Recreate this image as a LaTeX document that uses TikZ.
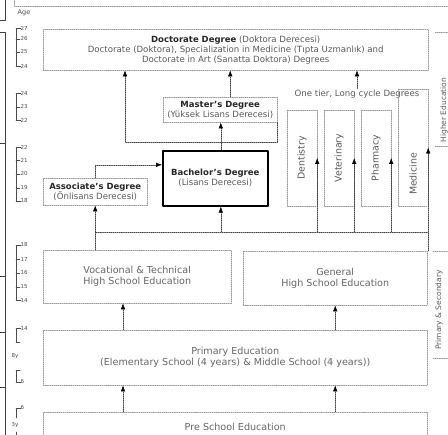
\documentclass[tikz,border=0pt]{standalone}
\usepackage{fontspec}
\setmainfont{DejaVu Sans}
\usetikzlibrary{arrows.meta}

\begin{document}
\begin{tikzpicture}[line cap=round,line join=round,>={Latex[length=6pt,width=4.5pt,black]},x=1pt,y=-1pt,
  boxline/.style={draw=gray!80, dash pattern=on 1.2pt off 0.9pt, line width=0.45pt},
  box/.style={boxline, anchor=north west, inner sep=0pt, align=center, text=black!65, font=\fontsize{8.6}{10}\selectfont},
  big/.style={font=\fontsize{9.6}{11}\selectfont, text=black!60},
  tall/.style={boxline, inner sep=0pt, text=black!65, font=\fontsize{9.4}{10}\selectfont},
  link/.style={->, draw=black!75, dash pattern=on 1.2pt off 0.9pt, line width=0.45pt},
  wire/.style={draw=black!75, dash pattern=on 1.2pt off 0.9pt, line width=0.45pt},
  agebr/.style={draw=black!70, line width=0.4pt},
  age/.style={anchor=west, inner sep=0.5pt, text=black!70, font=\fontsize{5.5}{6}\selectfont}]

\def\bl{43} %left edge of the boxes
\def\bw{384} %width of the long boxes

\useasboundingbox (0,0) rectangle (448,435);

%frame lines
\draw[boxline] (14,-5) -- (14,6) -- (452,6);
\draw[black!75, line width=0.5pt] (-2,20) -- (5,20) -- (5,-5);
\draw[black!75, line width=0.5pt] (-2,32) -- (5,32) -- (5,440);
\foreach \y in {143,276,332,387} \draw[black!75, line width=0.5pt] (-2,\y) -- (5,\y);

%ages
\node[text=black!70, font=\fontsize{6.5}{7}\selectfont] (agetitle) at (24,13) {Age};
\foreach \top/\bot in {28/66, 93/120, 147/201, 245/300}
  \draw[agebr] (21,\top) -- (16,\top) -- (16,\bot) -- (21,\bot);
\draw[agebr] (21,328) -- (16,328) -- (16,342);
\draw[agebr] (16,370) -- (16,382) -- (21,382);
\draw[agebr] (21,408) -- (16,408) -- (16,418);
\draw[agebr] (16,432) -- (16,440);
\foreach \y/\a in {28/27, 39/26, 52/25, 66/24, 93/24, 107/23, 120/22, 147/22, 160/21, 174/20, 188/19, 201/18,
  245/18, 259/17, 273/16, 287/15, 300/14, 328/14, 382/6, 408/6} {
  \draw[agebr] (16,\y) -- (20,\y);
  \node[age] (age\y) at (20,\y) {\a};
}
\foreach \y in {342,370} \draw[agebr] (16,\y) -- (20,\y);
\node[age, anchor=center] (yrs8) at (15,356) {8y};
\node[age, anchor=center] (yrs3) at (15,425) {3y};

%higher education
\node[box, minimum width=385pt, minimum height=41pt] (doc) at (\bl,29)
  {{\color{black!85}\bfseries\fontsize{8.5}{10}\selectfont Doctorate Degree} (Doktora Derecesi)\\
   Doctorate (Doktora), Specialization in Medicine (Tıpta Uzmanlık) and\\
   Doctorate in Art (Sanatta Doktora) Degrees};
\node[box, minimum width=114pt, minimum height=25pt] (mas) at (163,97)
  {{\color{black!85}\bfseries\fontsize{8.5}{10}\selectfont Master's Degree}\\(Yüksek Lisans Derecesi)};
\node[box, draw=black, solid, line width=1.6pt, minimum width=105pt, minimum height=55pt] (bach) at (162,150)
  {{\color{black!85}\bfseries\fontsize{8.5}{10}\selectfont Bachelor's Degree}\\(Lisans Derecesi)};
\node[box, minimum width=104pt, minimum height=27pt] (ass) at (\bl,178)
  {{\color{black!85}\bfseries\fontsize{8.5}{10}\selectfont Associate's Degree}\\(Önlisans Derecesi)};

%one tier programmes
\node[text=black!65, font=\fontsize{8.6}{10}\selectfont, inner sep=1pt] (tier) at (357,94) {One tier, Long cycle Degrees};
\node[tall, minimum width=96pt, minimum height=30pt, rotate=90] (dent) at (302,158) {Dentistry};
\node[tall, minimum width=96pt, minimum height=30pt, rotate=90] (vet) at (339,158) {Veterinary};
\node[tall, minimum width=96pt, minimum height=30pt, rotate=90] (phar) at (376,158) {Pharmacy};
\node[tall, minimum width=117pt, minimum height=30pt, rotate=90] (med) at (413,147.5) {};
\node[text=black!65, font=\fontsize{9.4}{10}\selectfont, rotate=90] (medtext) at (413,174) {Medicine};

%secondary and primary
\node[box, big, minimum width=188pt, minimum height=53pt] (voc) at (\bl,250) {Vocational \& Technical\\High School Education};
\node[box, big, minimum width=184pt, minimum height=54pt] (gen) at (243,251) {General\\High School Education};
\node[box, big, minimum width=\bw pt, minimum height=55pt] (prim) at (\bl,330)
  {Primary Education\\(Elementary School (4 years) \& Middle School (4 years))};
\node[box, big, minimum width=\bw pt, minimum height=30pt] (pre) at (\bl,412) {Pre School Education};

%side labels
\draw[boxline] (435,32) -- (452,32);
\draw[boxline] (435,146) -- (452,146);
\draw[boxline] (433,251) -- (452,251);
\draw[boxline] (433,358) -- (452,358);
\node[text=black!65, font=\fontsize{7.5}{8}\selectfont, rotate=90] (highlab) at (444,110) {Higher Education};
\node[text=black!65, font=\fontsize{7.5}{8}\selectfont, rotate=90] (seclab) at (439,310) {Primary \& Secondary};

%connectors
\coordinate (bus) at (0,232);
\coordinate (jn) at (125,142);
\coordinate (pa) at (123,0);
\coordinate (mx) at ([xshift=10pt]mas.north);
\coordinate (bt) at ([xshift=5.5pt]bach.north);
\coordinate (bb) at ([xshift=5.5pt]bach.south);
\draw[link] (mx) -- (mx |- doc.south);
\draw[link] (tier.north) -- (tier.north |- doc.south);
\draw[link] (mas.south east) |- (jn) -- (jn |- doc.south);
\draw[link] (bt) -- (bt |- mas.south);
\draw[link] (ass.north) |- ([yshift=13.5pt]bach.west);
\draw[wire] (voc.north -| ass.north) -- (bus -| ass.north) -- (bus -| med.south);
\draw[wire] (gen.north -| med.south) -- (bus -| med.south);
\foreach \n in {ass,dent,vet,phar,med}
  \draw[link] (bus -| \n.south) -- (\n.south);
\draw[link] (bus -| bb) -- (bb);
\draw[link] (prim.north -| pa) -- (voc.south -| pa);
\draw[link] (prim.north -| gen.south) -- (gen.south);
\draw[link] (pre.north -| pa) -- (prim.south -| pa);
\draw[link] (pre.north -| gen.south) -- (prim.south -| gen.south);
\end{tikzpicture}
\end{document}
